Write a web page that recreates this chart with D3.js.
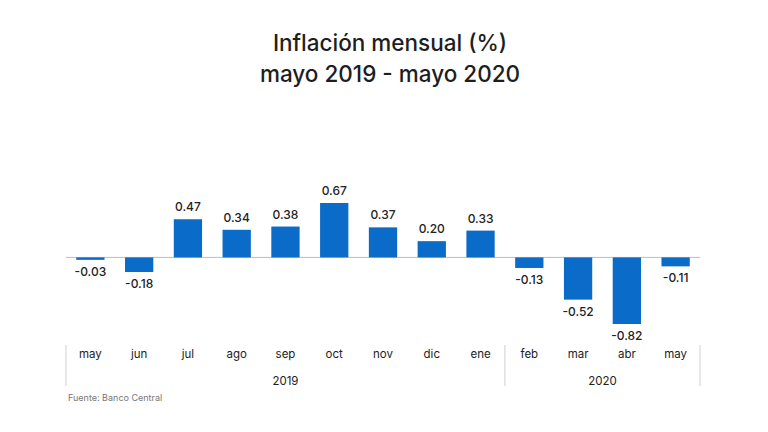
<!DOCTYPE html>
<html><head><meta charset="utf-8">
<script src="https://cdn.jsdelivr.net/npm/d3@7"></script>
<style>body{margin:0;background:#fff;}svg{display:block;}</style>
</head><body>
<script>
const months = ["may","jun","jul","ago","sep","oct","nov","dic","ene","feb","mar","abr","may"];
const keys = ["2019-05","2019-06","2019-07","2019-08","2019-09","2019-10","2019-11","2019-12","2020-01","2020-02","2020-03","2020-04","2020-05"];
const values = [-0.03,-0.18,0.47,0.34,0.38,0.67,0.37,0.20,0.33,-0.13,-0.52,-0.82,-0.11];
const years = [{label:"2019", from:0, to:8},{label:"2020", from:9, to:12}];
const titleLines = ["Inflación mensual (%)","mayo 2019 - mayo 2020"];
const source = "Fuente: Banco Central";

const W=768,H=432;
const svg=d3.select("body").append("svg").attr("width",W).attr("height",H);
const font="Inter, 'Open Sans', sans-serif";

const x=d3.scaleBand().domain(keys).range([66,700]).paddingInner(0.42).paddingOuter(0.21);
const y=d3.scaleLinear().domain([-0.82,0.67]).range([324,203]);

svg.selectAll("text.title").data(titleLines).enter().append("text")
  .attr("x",390).attr("y",(d,i)=>51+i*31).attr("text-anchor","middle")
  .attr("font-family",font).attr("font-size",22.5).attr("font-weight",500)
  .attr("fill","#1e1e1e").text(d=>d);

svg.append("line").attr("x1",66).attr("x2",700).attr("y1",y(0)).attr("y2",y(0))
  .attr("stroke","#bdbdbd").attr("stroke-width",1);

svg.selectAll("rect.bar").data(values).enter().append("rect")
  .attr("x",(d,i)=>x(keys[i])).attr("width",x.bandwidth())
  .attr("y",d=>y(Math.max(0,d))).attr("height",d=>Math.abs(y(d)-y(0)))
  .attr("fill","#0b6bc8");

svg.selectAll("text.val").data(values).enter().append("text")
  .attr("x",(d,i)=>x(keys[i])+x.bandwidth()/2)
  .attr("y",d=>d>=0?y(d)-8:y(d)+16)
  .attr("text-anchor","middle").attr("font-family",font).attr("font-size",12)
  .attr("font-weight",500).attr("fill","#222").text(d=>d.toFixed(2));

const axis=d3.axisBottom(x).tickSize(0).tickFormat((k,i)=>months[i]);
const g=svg.append("g").attr("transform","translate(0,347)").call(axis);
g.select(".domain").remove();
g.selectAll("text").attr("font-family",font).attr("font-size",11.5).attr("fill","#222");

const step=x.step();
const seps=[66, x(keys[9])-(step-x.bandwidth())/2, 700];
svg.selectAll("line.sep").data(seps).enter().append("line")
  .attr("x1",d=>d).attr("x2",d=>d).attr("y1",345).attr("y2",386)
  .attr("stroke","#cfcfcf");

svg.selectAll("text.year").data(years).enter().append("text")
  .attr("x",d=>(x(keys[d.from])+x(keys[d.to])+x.bandwidth())/2)
  .attr("y",385).attr("text-anchor","middle").attr("font-family",font)
  .attr("font-size",11.5).attr("fill","#222").text(d=>d.label);

svg.append("text").attr("x",68).attr("y",401).attr("font-family",font)
  .attr("font-size",9).attr("fill","#777").text(source);
</script>
</body></html>
